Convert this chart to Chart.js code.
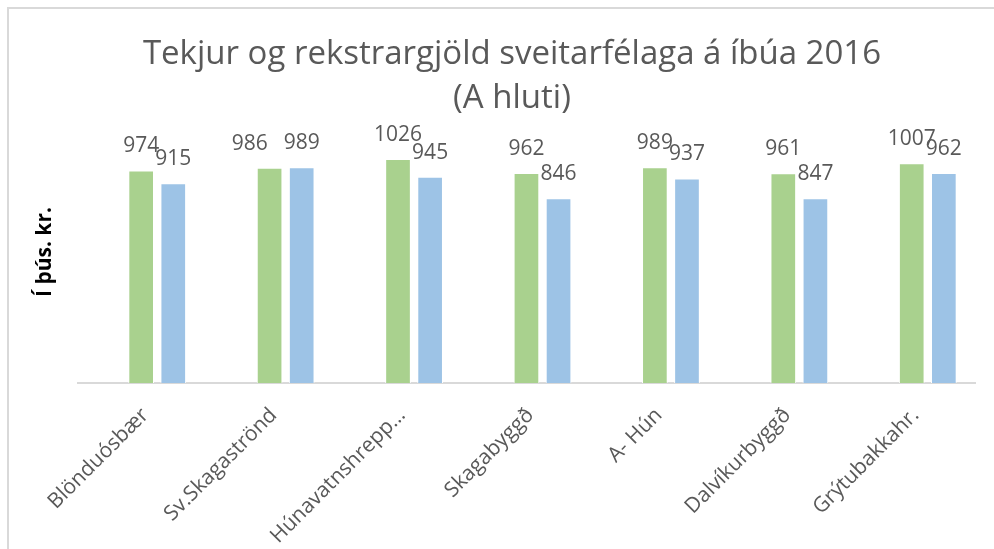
<!DOCTYPE html>
<html>
<head>
<meta charset="utf-8">
<script src="https://cdn.jsdelivr.net/npm/chart.js@4.4.1/dist/chart.umd.min.js"></script>
<style>
  html, body { margin: 0; padding: 0; background: #fff; }
  #wrap { position: relative; width: 994px; height: 549px; }
  #frame { position: absolute; left: 7px; top: 7px; width: 1000px; height: 600px; border: 2px solid #d9d9d9; box-sizing: border-box; }
  canvas { position: absolute; left: 0; top: 0; }
</style>
</head>
<body>
<div id="wrap">
  <div id="frame"></div>
  <canvas id="myChart" width="994" height="549"></canvas>
</div>
<script>
// sveitarfélög
const categories = ['Blönduósbær', 'Sv.Skagaströnd', 'Húnavatnshrepp…', 'Skagabyggð', 'A- Hún', 'Dalvíkurbyggð', 'Grýtubakkahr.'];
// tekjur og rekstrargjöld á íbúa, þús. kr.
const tekjur = [974, 986, 1026, 962, 989, 961, 1007];
const gjold = [915, 989, 945, 846, 937, 847, 962];

const textColor = '#595959';
const fontFamily = '"Open Sans", sans-serif';

// gildin fyrir ofan súlurnar
const valueLabels = {
  id: 'valueLabels',
  afterDatasetsDraw(chart) {
    const ctx = chart.ctx;
    ctx.save();
    ctx.font = '21px ' + fontFamily;
    ctx.fillStyle = textColor;
    ctx.textAlign = 'center';
    ctx.textBaseline = 'alphabetic';
    const m0 = chart.getDatasetMeta(0).data;
    const m1 = chart.getDatasetMeta(1).data;
    categories.forEach((c, j) => {
      const a = m0[j], b = m1[j];
      const ta = String(tekjur[j]), tb = String(gjold[j]);
      let xa = a.x;
      // ef merkin lenda í sömu hæð, færa það vinstra til hliðar (eins og Excel)
      if (Math.abs(a.y - b.y) < 4) {
        const wa = ctx.measureText(ta).width, wb = ctx.measureText(tb).width;
        xa = Math.min(a.x, b.x - wb / 2 - 16 - wa / 2);
      }
      ctx.fillText(ta, xa, a.y - 18);
      ctx.fillText(tb, b.x, b.y - 18);
    });
    ctx.restore();
  }
};

// grunnlínan (aðeins til vinstri eins og í Excel)
const baseLine = {
  id: 'baseLine',
  beforeDatasetsDraw(chart) {
    const ctx = chart.ctx;
    const y = chart.scales.y.getPixelForValue(0);
    ctx.save();
    ctx.strokeStyle = '#d9d9d9';
    ctx.lineWidth = 2;
    ctx.beginPath();
    ctx.moveTo(chart.chartArea.left - 16, y);
    ctx.lineTo(chart.chartArea.right - 16, y);
    ctx.stroke();
    ctx.restore();
  }
};

const ctx = document.getElementById('myChart').getContext('2d');
new Chart(ctx, {
  type: 'bar',
  data: {
    labels: categories,
    datasets: [{
      label: 'Tekjur',
      data: tekjur,
      backgroundColor: '#a9d18e',
      borderColor: '#ffffff',
      borderWidth: 1
    }, {
      label: 'Rekstrargjöld',
      data: gjold,
      backgroundColor: '#9dc3e6',
      borderColor: '#ffffff',
      borderWidth: 1
    }]
  },
  options: {
    responsive: false,
    animation: false,
    layout: { padding: { left: 32, right: 2, top: 9, bottom: 0 } },
    plugins: {
      legend: { display: false },
      tooltip: { enabled: false },
      title: {
        display: true,
        text: ['Tekjur og rekstrargjöld sveitarfélaga á íbúa 2016', '(A hluti)'],
        color: textColor,
        font: { family: fontFamily, size: 33, weight: 'normal', lineHeight: 1.35 },
        padding: { top: 23, bottom: 0 }
      }
    },
    datasets: {
      bar: { categoryPercentage: 0.5, barPercentage: 0.8 }
    },
    scales: {
      x: {
        grid: { display: false, drawTicks: false },
        border: { display: false },
        ticks: {
          color: textColor,
          font: { family: fontFamily, size: 21 },
          maxRotation: 45,
          minRotation: 45,
          autoSkip: false,
          padding: 20,
          labelOffset: -12
        },
        afterFit(scale) { scale.height = 166; }
      },
      y: {
        min: 0,
        max: 1200,
        grid: { display: false },
        border: { display: false },
        ticks: { display: false },
        title: {
          display: true,
          text: 'Í þús. kr.',
          color: '#000000',
          font: { family: fontFamily, size: 21, weight: 'bold' },
          padding: 0
        },
        afterFit(scale) { scale.width = 61; }
      }
    }
  },
  plugins: [baseLine, valueLabels]
});
</script>
</body>
</html>
